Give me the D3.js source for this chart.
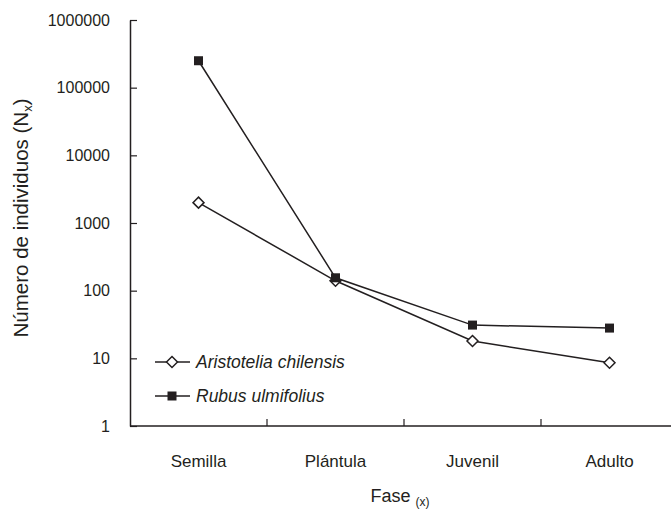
<!DOCTYPE html>
<html>
<head>
<meta charset="utf-8">
<script src="https://cdn.jsdelivr.net/npm/d3@7"></script>
<style>
  html, body { margin: 0; padding: 0; background: #fff; }
  svg { display: block; font-family: "Liberation Sans", Arial, sans-serif; }
</style>
</head>
<body>
<svg id="chart" width="671" height="511"></svg>
<script>
const categories = ["Semilla", "Plántula", "Juvenil", "Adulto"];
const aristotelia = [2000, 140, 18, 8.6];
const rubus = [250000, 155, 31, 28];
const yTicks = [1, 10, 100, 1000, 10000, 100000, 1000000];
const seriesNames = ["Aristotelia chilensis", "Rubus ulmifolius"];

const svg = d3.select("#chart");
const mLeft = 130, mRight = 678, mTop = 20, mBottom = 426;

const x = d3.scaleBand().domain(categories).range([mLeft, mRight]).padding(0);
const y = d3.scaleLog().domain([1, 1000000]).range([mBottom, mTop]);

const ink = "#231f20";

// Y axis
const yAxis = d3.axisLeft(y).tickValues(yTicks).tickFormat(d3.format("d"))
  .tickSizeInner(-7).tickSizeOuter(0).tickPadding(20);
const gy = svg.append("g").attr("transform", `translate(${mLeft},0)`).call(yAxis);
gy.select(".domain").attr("stroke", ink).attr("stroke-width", 1.5);
gy.selectAll(".tick line").attr("stroke", ink).attr("stroke-width", 1.2);
gy.selectAll(".tick text").attr("fill", ink).style("font-size", "16px")
  .style("font-family", "'Liberation Sans', Arial, sans-serif");

// X axis with ticks at band boundaries
const gx = svg.append("g").attr("transform", `translate(0,${mBottom})`);
gx.append("line").attr("x1", mLeft).attr("x2", mRight).attr("y1", 0).attr("y2", 0)
  .attr("stroke", ink).attr("stroke-width", 1.5);
gx.selectAll("line.bt").data(categories.slice(1)).enter().append("line")
  .attr("class", "bt")
  .attr("x1", d => x(d)).attr("x2", d => x(d)).attr("y1", 0).attr("y2", -7)
  .attr("stroke", ink).attr("stroke-width", 1.2);
gx.selectAll("text").data(categories).enter().append("text")
  .attr("x", d => x(d) + x.bandwidth() / 2).attr("y", 41)
  .attr("text-anchor", "middle").attr("fill", ink).style("font-size", "17px")
  .text(d => d);

// Axis titles
const xt = svg.append("text").attr("x", 400).attr("y", 502).attr("text-anchor", "middle")
  .attr("fill", ink).style("font-size", "18px");
xt.append("tspan").text("Fase ");
xt.append("tspan").attr("dy", 4).style("font-size", "12px").text("(x)");

const yt = svg.append("text").attr("transform", "translate(28,218) rotate(-90)")
  .attr("text-anchor", "middle").attr("fill", ink).style("font-size", "20.5px");
yt.append("tspan").text("Número de individuos (N");
yt.append("tspan").attr("dy", 4).style("font-size", "13px").text("x");
yt.append("tspan").attr("dy", -4).text(")");

// Lines
const cx = d => x(d) + x.bandwidth() / 2;
const line = d3.line().x(d => cx(d.c)).y(d => y(d.v));
const dataA = categories.map((c, i) => ({ c, v: aristotelia[i] }));
const dataR = categories.map((c, i) => ({ c, v: rubus[i] }));

svg.append("path").datum(dataA).attr("d", line).attr("fill", "none")
  .attr("stroke", ink).attr("stroke-width", 1.5);
svg.append("path").datum(dataR).attr("d", line).attr("fill", "none")
  .attr("stroke", ink).attr("stroke-width", 1.5);

function drawDiamond(g, px, py) {
  g.append("path").attr("d", "M0,-5.5L5.5,0L0,5.5L-5.5,0Z")
    .attr("transform", `translate(${px},${py})`)
    .attr("fill", "#fff").attr("stroke", ink).attr("stroke-width", 1.5);
}
function drawSquare(g, px, py) {
  g.append("rect").attr("x", px - 4.5).attr("y", py - 4.5).attr("width", 9).attr("height", 9)
    .attr("fill", ink);
}
const gm = svg.append("g");
dataA.forEach(d => drawDiamond(gm, cx(d.c), y(d.v)));
dataR.forEach(d => drawSquare(gm, cx(d.c), y(d.v)));

// Legend
const lg = svg.append("g");
const legY = [362, 396];
legY.forEach((ly, i) => {
  lg.append("line").attr("x1", 155).attr("x2", 190).attr("y1", ly).attr("y2", ly)
    .attr("stroke", ink).attr("stroke-width", 1.5);
  if (i === 0) drawDiamond(lg, 172, ly); else drawSquare(lg, 172, ly);
  lg.append("text").attr("x", 196).attr("y", ly + 6).attr("fill", ink)
    .style("font-size", "17.5px").style("font-style", "italic").text(seriesNames[i]);
});
</script>
</body>
</html>
